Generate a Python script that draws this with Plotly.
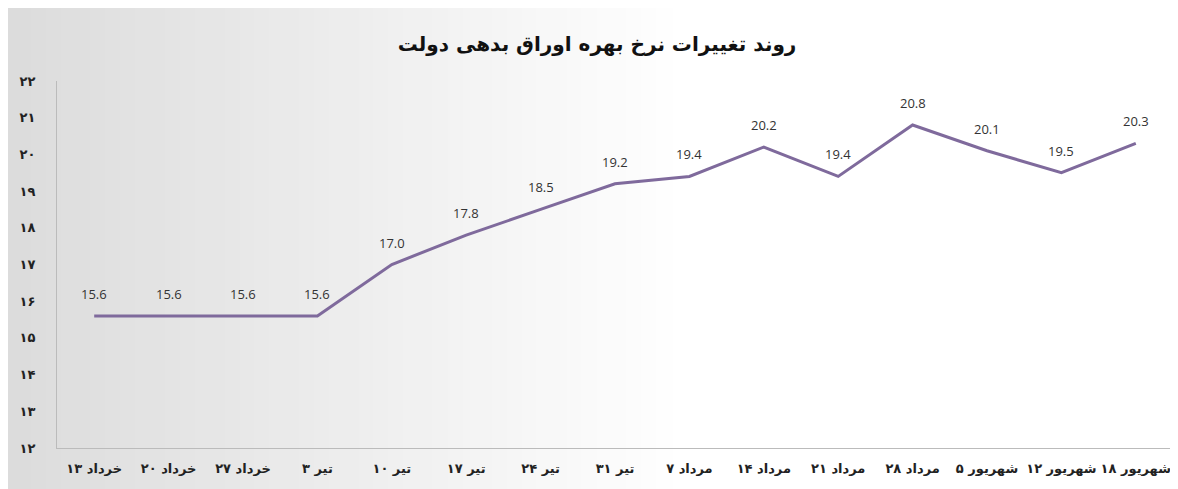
import plotly.graph_objects as go

dates = ["۱۳ خرداد", "۲۰ خرداد", "۲۷ خرداد", "۳ تیر", "۱۰ تیر", "۱۷ تیر", "۲۴ تیر", "۳۱ تیر",
         "۷ مرداد", "۱۴ مرداد", "۲۱ مرداد", "۲۸ مرداد", "۵ شهریور", "۱۲ شهریور", "۱۸ شهریور"]
rates = [15.6, 15.6, 15.6, 15.6, 17.0, 17.8, 18.5, 19.2, 19.4, 20.2, 19.4, 20.8, 20.1, 19.5, 20.3]
ytick_vals = list(range(12, 23))
ytick_text = ["۱۲", "۱۳", "۱۴", "۱۵", "۱۶", "۱۷", "۱۸", "۱۹", "۲۰", "۲۱", "۲۲"]
title = "روند تغییرات نرخ بهره اوراق بدهی دولت"

labels = ["<b>\u200e" + d + "</b>" for d in dates]

fig = go.Figure(go.Scatter(
    x=labels, y=rates, mode="lines",
    line=dict(color="#7f6a9c", width=3),
))
for xl, v in zip(labels, rates):
    fig.add_annotation(x=xl, y=v, text=f"{v:.1f}", showarrow=False, yshift=22,
                       font=dict(family="Open Sans", size=13, color="#333"))

shapes = []
n = 45
for i in range(n):
    t = i / n
    g = int(220 + (255 - 220) * t)
    shapes.append(dict(type="rect", xref="paper", yref="paper", layer="below",
                       x0=-0.05 + 0.6 * t, x1=-0.05 + 0.6 * (i + 1) / n + 0.002,
                       y0=-1, y1=2, line=dict(width=0),
                       fillcolor=f"rgb({g},{g},{g})"))
fig.update_layout(
    width=1178, height=489,
    paper_bgcolor="white", plot_bgcolor="rgba(0,0,0,0)",
    margin=dict(l=35, r=13, t=73, b=49),
    title=dict(text=f"<b>{title}</b>", x=0.5, xanchor="center", y=0.94,
               font=dict(family="DejaVu Sans", size=20, color="#111")),
    showlegend=False, shapes=shapes,
    xaxis=dict(showgrid=False, showline=True, linecolor="#bbb", ticks="",
               tickfont=dict(family="DejaVu Sans", size=13, color="#222"),
               tickangle=0, range=[-0.5, 14.5], ticklabelstandoff=8),
    yaxis=dict(range=[12, 22], tickvals=ytick_vals,
               ticktext=["<b>" + t + "</b>" for t in ytick_text],
               showgrid=False, showline=True, linecolor="#bbb", ticks="",
               tickfont=dict(family="DejaVu Sans", size=13, color="#222"),
               ticklabelstandoff=18),
)
fig.write_html("out.html")
